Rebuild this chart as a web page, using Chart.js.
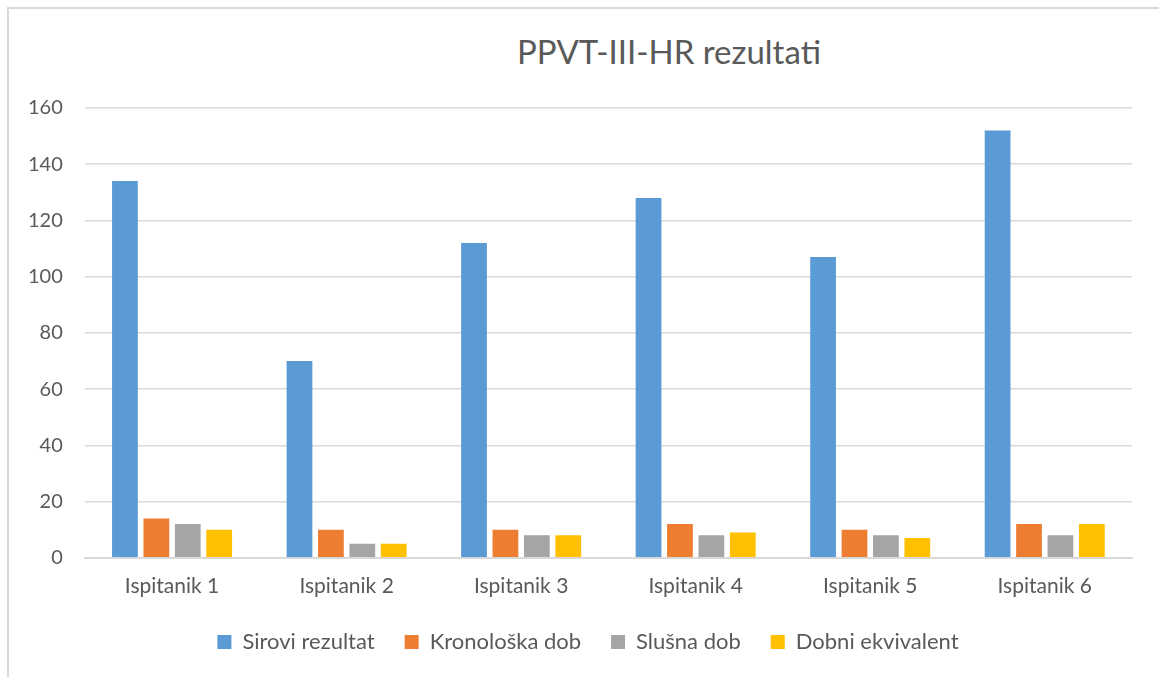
<!DOCTYPE html>
<html lang="hr">
<head>
<meta charset="UTF-8" />
<title>PPVT-III-HR rezultati</title>
<script src="https://cdn.jsdelivr.net/npm/chart.js"></script>
<style>
  body { margin: 0; background: #fff; overflow: hidden; }
  #frame { position: absolute; left: 7px; top: 7px; width: 1300px; height: 800px; border: 2px solid #d9d9d9; }
  #title { position: absolute; left: 0; top: 31px; width: 1338px; text-align: center;
           font: 33px Lato, "Open Sans", sans-serif; color: #595959; }
  #wrap { position: absolute; left: 0; top: 0; width: 1159px; height: 677px; }
</style>
</head>
<body>
<div id="frame"></div>
<div id="title">PPVT-III-HR rezultati</div>
<div id="wrap"><canvas id="chart"></canvas></div>
<script>
// data
const categories = ['Ispitanik 1', 'Ispitanik 2', 'Ispitanik 3', 'Ispitanik 4', 'Ispitanik 5', 'Ispitanik 6'];
const sirovi = [134, 70, 112, 128, 107, 152];
const kronoloska = [14, 10, 10, 12, 10, 12];
const slusna = [12, 5, 8, 8, 8, 8];
const dobni = [10, 5, 8, 9, 7, 12];
const yTicks = [0, 20, 40, 60, 80, 100, 120, 140, 160];

const textColor = '#595959';
const gridColor = '#d9d9d9';
const family = 'Lato, "Open Sans", sans-serif';

function ds(label, data, color) {
  return {
    label: label,
    data: data,
    backgroundColor: color,
    borderWidth: 0,
    categoryPercentage: 0.72,
    barPercentage: 0.82
  };
}

// pull the legend rows up closer to the axis labels, and a bit to the right
const legendShift = {
  id: 'legendShift',
  afterLayout(chart) {
    chart.legend.top -= 14;
    chart.legend.bottom -= 14;
    chart.legend.left += 19;
    chart.legend.right += 19;
  }
};

new Chart(document.getElementById('chart'), {
  type: 'bar',
  data: {
    labels: categories,
    datasets: [
      ds('Sirovi rezultat', sirovi, '#5B9BD5'),
      ds('Kronološka dob', kronoloska, '#ED7D31'),
      ds('Slušna dob', slusna, '#A5A5A5'),
      ds('Dobni ekvivalent', dobni, '#FFC000')
    ]
  },
  options: {
    responsive: true,
    maintainAspectRatio: false,
    animation: false,
    layout: { padding: { top: 108, left: 6, right: 27, bottom: 0 } },
    scales: {
      x: {
        grid: { display: false, drawTicks: false },
        border: { color: gridColor, width: 2 },
        ticks: { color: textColor, font: { family: family, size: 21 }, padding: 16 }
      },
      y: {
        min: 0,
        max: 160,
        afterBuildTicks: function (axis) {
          axis.ticks = yTicks.map(v => ({ value: v }));
        },
        grid: { color: gridColor, lineWidth: 1.5, drawTicks: false },
        border: { display: false },
        ticks: { color: textColor, font: { family: family, size: 20 }, padding: 22 }
      }
    },
    plugins: {
      legend: {
        position: 'bottom',
        labels: {
          color: textColor,
          font: { family: family, size: 22 },
          boxWidth: 14,
          boxHeight: 14,
          padding: 30
        }
      },
      tooltip: { enabled: false }
    }
  },
  plugins: [legendShift]
});
</script>
</body>
</html>
